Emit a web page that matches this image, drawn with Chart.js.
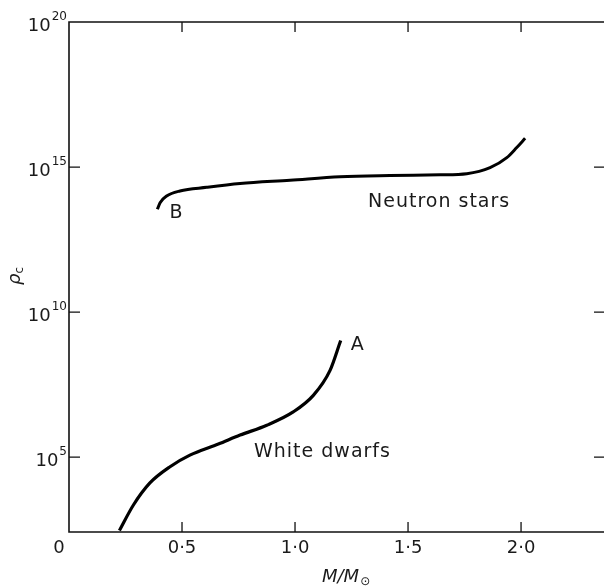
<!DOCTYPE html>
<html lang="en">
<head>
  <meta charset="UTF-8">
  <title>Central density against mass</title>
  <script src="https://cdn.jsdelivr.net/npm/chart.js"></script>
  <style>
    * { margin: 0; padding: 0; box-sizing: border-box; }
    body { background: #ffffff; width: 604px; height: 587px; overflow: hidden; }
    .wrap { position: relative; width: 604px; height: 587px; }
  </style>
</head>
<body>
  <div class="wrap"><canvas id="rhoChart"></canvas></div>

  <script>
    // white dwarf branch (M/Msun, central density)
    const wdMass = [0.223, 0.285, 0.358, 0.447, 0.535, 0.661, 0.757, 0.875, 0.992, 1.081, 1.155, 1.202];
    const wdDensity = [2.95e2, 2.24e3, 1.29e4, 4.68e4, 1.17e5, 2.82e5, 5.75e5, 1.26e6, 3.63e6, 1.35e7, 9.8e7, 1.05e9];

    // neutron star branch
    const nsMass = [0.391, 0.403, 0.432, 0.491, 0.609, 0.757, 0.978, 1.199, 1.420, 1.642, 1.760, 1.863, 1.937, 1.981, 2.018];
    const nsDensity = [3.5e13, 5.9e13, 1.0e14, 1.5e14, 2.0e14, 2.7e14, 3.5e14, 4.6e14, 5.1e14, 5.4e14, 5.9e14, 9.5e14, 2.1e15, 4.7e15, 9.8e15];

    const xTicks = [0.5, 1.0, 1.5, 2.0];
    const xTickLabels = ['0·5', '1·0', '1·5', '2·0'];
    const yTicks = [1e5, 1e10, 1e15, 1e20];
    const yTickExps = ['5', '10', '15', '20'];

    const FONT = "'DejaVu Sans', sans-serif";

    const toPoints = (xs, ys) => xs.map((x, i) => ({ x: x, y: ys[i] }));

    const framePlugin = {
      id: 'frame',
      afterDraw(chart) {
        const ctx = chart.ctx;
        const xs = chart.scales.x;
        const ys = chart.scales.y;
        const a = chart.chartArea;
        ctx.save();
        ctx.strokeStyle = '#111';
        ctx.fillStyle = '#1a1a1a';
        ctx.lineWidth = 1.6;

        // frame: left, top, bottom (right side falls off the picture)
        ctx.beginPath();
        ctx.moveTo(a.right, a.top);
        ctx.lineTo(a.left, a.top);
        ctx.lineTo(a.left, a.bottom);
        ctx.lineTo(a.right, a.bottom);
        ctx.stroke();

        // x ticks, inward on bottom and top
        ctx.lineWidth = 1.3;
        xTicks.forEach(v => {
          const px = xs.getPixelForValue(v);
          ctx.beginPath();
          ctx.moveTo(px, a.bottom); ctx.lineTo(px, a.bottom - 10);
          ctx.moveTo(px, a.top); ctx.lineTo(px, a.top + 10);
          ctx.stroke();
        });

        // y ticks, inward on left and right
        yTicks.forEach(v => {
          if (v >= ys.max) return;
          const py = ys.getPixelForValue(v);
          ctx.beginPath();
          ctx.moveTo(a.left, py); ctx.lineTo(a.left + 11, py);
          ctx.moveTo(a.right - 10, py); ctx.lineTo(a.right, py);
          ctx.stroke();
        });

        // x tick labels
        ctx.font = '18px ' + FONT;
        ctx.textAlign = 'center';
        ctx.textBaseline = 'middle';
        ctx.fillText('0', xs.getPixelForValue(0) - 10, a.bottom + 16);
        xTicks.forEach((v, i) => {
          ctx.fillText(xTickLabels[i], xs.getPixelForValue(v), a.bottom + 16);
        });

        // y tick labels as 10 with raised exponent
        yTicks.forEach((v, i) => {
          const py = ys.getPixelForValue(v);
          const right = a.left - 2;
          ctx.font = '12px ' + FONT;
          ctx.textAlign = 'right';
          ctx.textBaseline = 'alphabetic';
          const supW = ctx.measureText(yTickExps[i]).width;
          ctx.fillText(yTickExps[i], right, py - 2);
          ctx.font = '18px ' + FONT;
          ctx.fillText('10', right - supW - 1, py + 9);
        });

        // axis titles
        ctx.font = 'italic 18px ' + FONT;
        ctx.textAlign = 'left';
        ctx.textBaseline = 'alphabetic';
        const tx = 322;
        ctx.fillText('M/M', tx, 582);
        const mw = ctx.measureText('M/M').width;
        ctx.font = '12px ' + FONT;
        ctx.fillText('⊙', tx + mw + 1, 585);

        ctx.save();
        ctx.translate(20, 285);
        ctx.rotate(-Math.PI / 2);
        ctx.font = 'italic 18px ' + FONT;
        ctx.fillText('ρ', 0, 0);
        const rw = ctx.measureText('ρ').width;
        ctx.font = '12px ' + FONT;
        ctx.fillText('c', rw, 3);
        ctx.restore();

        // curve annotations
        ctx.font = '19px ' + FONT;
        ctx.letterSpacing = '1px';
        ctx.textAlign = 'left';
        ctx.textBaseline = 'middle';
        ctx.fillText('A', xs.getPixelForValue(wdMass[wdMass.length - 1]) + 10, ys.getPixelForValue(wdDensity[wdDensity.length - 1]) + 5);
        ctx.fillText('B', xs.getPixelForValue(nsMass[0]) + 12, ys.getPixelForValue(nsDensity[0]) + 4);
        ctx.fillText('White dwarfs', 254, 452);
        ctx.fillText('Neutron stars', 368, 202);
        ctx.restore();
      }
    };

    new Chart(document.getElementById('rhoChart'), {
      type: 'line',
      data: {
        datasets: [
          {
            label: 'White dwarfs',
            data: toPoints(wdMass, wdDensity),
            borderColor: '#000',
            borderWidth: 3.2,
            pointRadius: 0,
            cubicInterpolationMode: 'monotone',
            fill: false
          },
          {
            label: 'Neutron stars',
            data: toPoints(nsMass, nsDensity),
            borderColor: '#000',
            borderWidth: 3,
            pointRadius: 0,
            cubicInterpolationMode: 'monotone',
            fill: false
          }
        ]
      },
      options: {
        responsive: true,
        maintainAspectRatio: false,
        animation: false,
        layout: { padding: { left: 69, top: 22, right: 0, bottom: 55 } },
        plugins: { legend: { display: false }, tooltip: { enabled: false } },
        scales: {
          x: { type: 'linear', min: 0, max: 2.367, display: false },
          y: { type: 'logarithmic', min: 263, max: 1e20, display: false }
        }
      },
      plugins: [framePlugin]
    });
  </script>
</body>
</html>
